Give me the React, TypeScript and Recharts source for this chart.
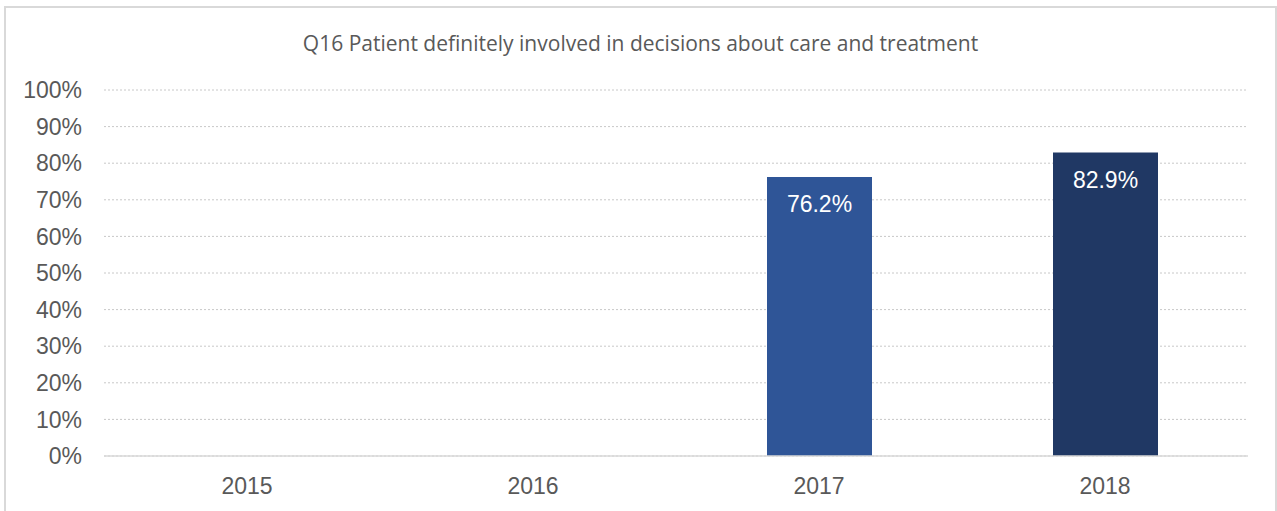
import React from 'react';
import { BarChart, Bar, XAxis, YAxis, CartesianGrid, Cell, LabelList } from 'recharts';

// Survey years and share of patients (%)
const years = ['2015', '2016', '2017', '2018'];
const scores: (number | null)[] = [null, null, 76.2, 82.9];
const barColors = ['#2F5597', '#2F5597', '#2F5597', '#203864'];
const yTicks = [0, 10, 20, 30, 40, 50, 60, 70, 80, 90, 100];

const TITLE = 'Q16 Patient definitely involved in decisions about care and treatment';
const FONT = 'Liberation Sans, Arial, sans-serif';

const chartData = years.map((year, i) => ({ year, score: scores[i] }));

const ValueLabel = (props: any) => {
  const { x, y, width, value } = props;
  if (value == null) return null;
  return (
    <text
      x={x + width / 2}
      y={y + 27}
      fill="#ffffff"
      fontSize={23}
      fontFamily={FONT}
      textAnchor="middle"
      dominantBaseline="central"
    >
      {`${value.toFixed(1)}%`}
    </text>
  );
};

const App: React.FC = () => {
  return (
    <div
      style={{
        position: 'fixed',
        left: 0,
        top: 0,
        width: 1277,
        height: 511,
        overflow: 'hidden',
        background: '#ffffff',
      }}
    >
      {/* chart frame */}
      <div
        style={{
          position: 'absolute',
          left: 4,
          top: 6,
          width: 1273,
          height: 530,
          border: '2px solid #D9D9D9',
          boxSizing: 'border-box',
        }}
      />

      {/* Title */}
      <div
        style={{
          position: 'absolute',
          left: 0,
          top: 29,
          width: 1281,
          textAlign: 'center',
          fontFamily: '"Open Sans", sans-serif',
          fontSize: 21,
          color: '#595959',
          lineHeight: '28px',
          whiteSpace: 'nowrap',
        }}
      >
        {TITLE}
      </div>

      <div style={{ position: 'absolute', left: 0, top: 0 }}>
        <BarChart
          width={1277}
          height={511}
          data={chartData}
          margin={{ top: 90, right: 29, bottom: 0, left: 0 }}
        >
          <CartesianGrid
            vertical={false}
            stroke="#C8C8C8"
            strokeDasharray="2 2"
          />
          <XAxis
            dataKey="year"
            axisLine={{ stroke: '#D9D9D9', strokeWidth: 1.5 }}
            tickLine={false}
            tickSize={6}
            tickMargin={16}
            height={55}
            tick={{ fill: '#595959', fontSize: 23, fontFamily: FONT }}
          />
          <YAxis
            width={104}
            domain={[0, 100]}
            ticks={yTicks}
            interval={0}
            axisLine={false}
            tickLine={false}
            tickSize={6}
            tickMargin={16}
            tickFormatter={(v: number) => `${v}%`}
            tick={{ fill: '#595959', fontSize: 23, fontFamily: FONT }}
          />
          <Bar dataKey="score" barSize={105} isAnimationActive={false}>
            {chartData.map((d, i) => (
              <Cell key={d.year} fill={barColors[i]} />
            ))}
            <LabelList dataKey="score" content={<ValueLabel />} />
          </Bar>
        </BarChart>
      </div>
    </div>
  );
};

export default App;
